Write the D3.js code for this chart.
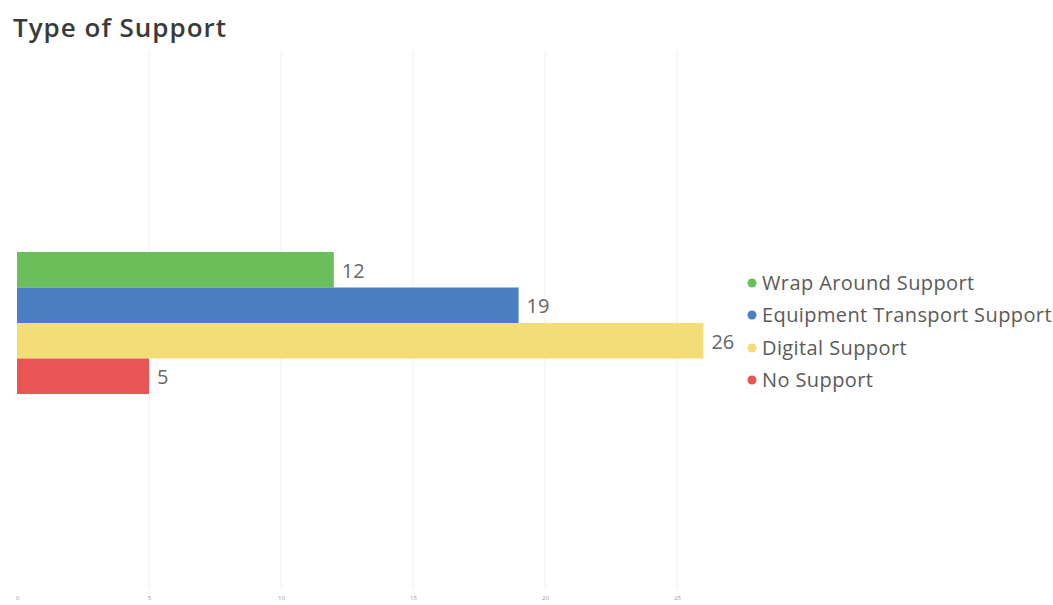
<!DOCTYPE html>
<html>
<head>
<meta charset="utf-8">
<script src="https://cdn.jsdelivr.net/npm/d3@7"></script>
<style>
  html, body { margin: 0; padding: 0; background: #fff; }
  svg { display: block; font-family: "Open Sans", "DejaVu Sans", sans-serif; }
</style>
</head>
<body>
<svg id="chart" width="1053" height="605"></svg>
<script>
// Support categories and their counts
const categories = ["Wrap Around Support", "Equipment Transport Support", "Digital Support", "No Support"];
const counts = [12, 19, 26, 5];
const colors = ["#6abf5a", "#4a7fc1", "#f2dd77", "#e85555"];
const tickValues = [0, 5, 10, 15, 20, 25];

const svg = d3.select("#chart");
const plot = { left: 17, right: 745, top: 50, bottom: 590 };

// Title
svg.append("text")
  .attr("x", 13).attr("y", 37)
  .attr("font-size", 26).attr("font-weight", 600)
  .attr("letter-spacing", 1)
  .attr("fill", "#3a3a3a")
  .text("Type of Support");

const x = d3.scaleLinear().domain([0, 27.576]).range([plot.left, plot.right]);

// All bars share one category band in the middle of the plot
const band = d3.scaleBand().domain(categories).range([252, 394]).padding(0);

// Vertical gridlines
svg.append("g").selectAll("line")
  .data(tickValues.filter(d => d > 0))
  .join("line")
  .attr("x1", d => x(d)).attr("x2", d => x(d))
  .attr("y1", plot.top).attr("y2", plot.bottom)
  .attr("stroke", "#efefef").attr("stroke-width", 1);

// Axis tick labels (tiny, pale)
const axis = d3.axisBottom(x).tickValues(tickValues).tickSize(0).tickPadding(0);
const gAxis = svg.append("g").attr("transform", `translate(0, ${596})`).call(axis);
gAxis.select(".domain").remove();
gAxis.selectAll("text")
  .attr("font-size", 6).attr("fill", "#999")
  .attr("font-family", "'Open Sans', sans-serif");

// Bars
svg.append("g").selectAll("rect")
  .data(categories)
  .join("rect")
  .attr("x", x(0))
  .attr("y", d => band(d))
  .attr("width", (d, i) => x(counts[i]) - x(0))
  .attr("height", band.bandwidth())
  .attr("fill", (d, i) => colors[i]);

// Value labels
svg.append("g").selectAll("text")
  .data(categories)
  .join("text")
  .attr("x", (d, i) => x(counts[i]) + 8)
  .attr("y", d => band(d) + band.bandwidth() / 2 + 8)
  .attr("font-size", 20).attr("fill", "#666")
  .text((d, i) => counts[i]);

// Legend
const legendY = [283, 315, 348, 380];
const lg = svg.append("g").selectAll("g")
  .data(categories)
  .join("g")
  .attr("transform", (d, i) => `translate(752, ${legendY[i]})`);
lg.append("circle").attr("r", 4.5).attr("cx", 0).attr("cy", 0)
  .attr("fill", (d, i) => colors[i]);
lg.append("text").attr("x", 10).attr("y", 7)
  .attr("font-size", 20).attr("letter-spacing", 0.4)
  .attr("fill", "#5a5a5a")
  .text(d => d);
</script>
</body>
</html>
